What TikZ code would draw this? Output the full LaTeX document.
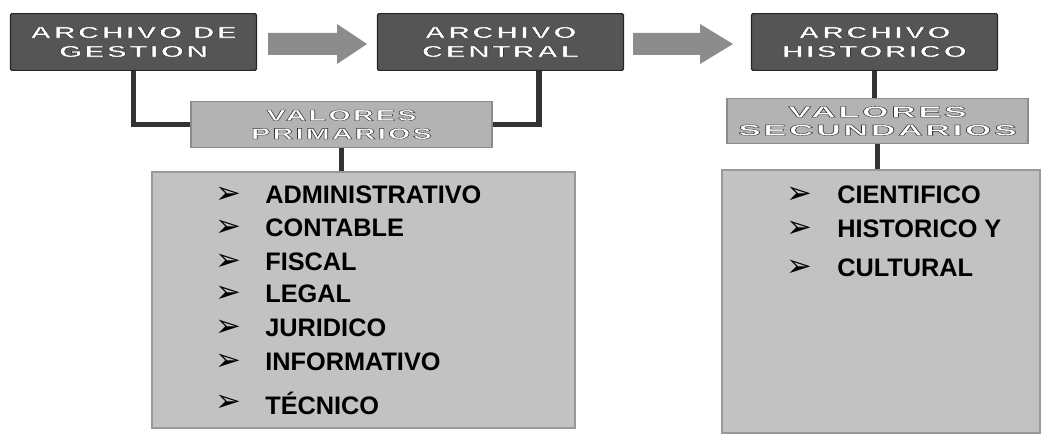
\documentclass[tikz,border=0pt]{standalone}
\usepackage{xcolor}
\usepackage{graphicx}
\usepackage{fontspec}
\usepackage{tikz}

\setmainfont{Liberation Sans}
\newfontfamily\headfont[LetterSpace=8]{Liberation Sans}
\newfontfamily\listfont{Liberation Sans}
\newfontfamily\bulletfont{DejaVu Sans}
\newcommand{\rotulo}[2][1.85]{\scalebox{#1}[1]{\special{pdf:literal direct 2 Tr 0.2 G 0.25 w}#2\special{pdf:literal direct 0 Tr}}}

\definecolor{headgray}{HTML}{555555}
\definecolor{valgray}{HTML}{B3B3B3}
\definecolor{listgray}{HTML}{C2C2C2}
\definecolor{arrowgray}{HTML}{8C8C8C}
\definecolor{linkgray}{HTML}{333333}

\begin{document}
\begin{tikzpicture}[x=0.025cm,y=-0.025cm,
  archivo/.style={fill=headgray, draw=black!85, line width=0.8pt, rounded corners=1pt,
    minimum width=6.15cm, minimum height=1.42cm, align=center, text=white,
    font=\headfont\bfseries\fontsize{11.5}{13.5}\selectfont},
  valores/.style={fill=valgray, draw=black!45, line width=0.8pt,
    minimum width=7.525cm, minimum height=1.13cm, align=center, text=white,
    font=\headfont\bfseries\fontsize{11}{13}\selectfont},
  lista/.style={fill=listgray, draw=black!40, line width=0.8pt},
  enlace/.style={draw=linkgray, line width=4pt},
  flecha/.style={fill=arrowgray},
  vineta/.style={font=\bulletfont\fontsize{22}{22}\selectfont, inner sep=0pt},
  item/.style={anchor=west, inner sep=0pt, font=\listfont\bfseries\fontsize{18}{18}\selectfont}]
  \useasboundingbox (0,0) rectangle (1045,440);

  % archivos
  \node[archivo] (gestion)   at (133.5,42) {\rotulo{ARCHIVO DE}\\\rotulo{GESTION}};
  \node[archivo] (central)   at (500.5,42) {\rotulo{ARCHIVO}\\\rotulo{CENTRAL}};
  \node[archivo] (historico) at (874.5,42) {\rotulo{ARCHIVO}\\\rotulo{HISTORICO}};

  % flechas
  \fill[flecha] (268,33) -- (337,33) -- (337,24) -- (367,44) -- (337,64) -- (337,55) -- (268,55) -- cycle;
  \fill[flecha] (633,33) -- (700,33) -- (700,24) -- (733,44) -- (700,64) -- (700,55) -- (633,55) -- cycle;

  % valores
  \node[valores] (primarios)   at (341.5,124.5) {\rotulo{VALORES}\\\rotulo{PRIMARIOS}};
  \node[valores] (secundarios) at (877.5,121) {\rotulo[2.2]{VALORES}\\\rotulo[2.2]{SECUNDARIOS}};

  % listas
  \node[lista, minimum width=10.575cm, minimum height=6.4cm] (listL) at (363.5,300) {};
  \node[lista, minimum width=7.95cm, minimum height=6.575cm] (listR) at (881,301.5) {};

  \foreach \y/\t in {195/ADMINISTRATIVO, 228/CONTABLE, 262/FISCAL, 294/LEGAL,
                     328/JURIDICO, 362/INFORMATIVO, 403/TÉCNICO} {
    \node[vineta] (bl\y) at (228,\y) {➢};
    \node[item] (tl\y) at (265,\y) {\t};
  }
  \foreach \y/\t in {195/CIENTIFICO, 229/HISTORICO Y, 268/CULTURAL} {
    \node[vineta] (br\y) at (799,\y) {➢};
    \node[item] (tr\y) at (837,\y) {\t};
  }

  % enlaces
  \draw[enlace] (gestion.south) |- (primarios.west);
  \draw[enlace] ([xshift=0.96cm]central.south) |- (primarios.east);
  \draw[enlace] (primarios.south) -- (primarios.south |- listL.north);
  \draw[enlace] (historico.south) -- (historico.south |- secundarios.north);
  \draw[enlace] (secundarios.south) -- (secundarios.south |- listR.north);
\end{tikzpicture}
\end{document}
